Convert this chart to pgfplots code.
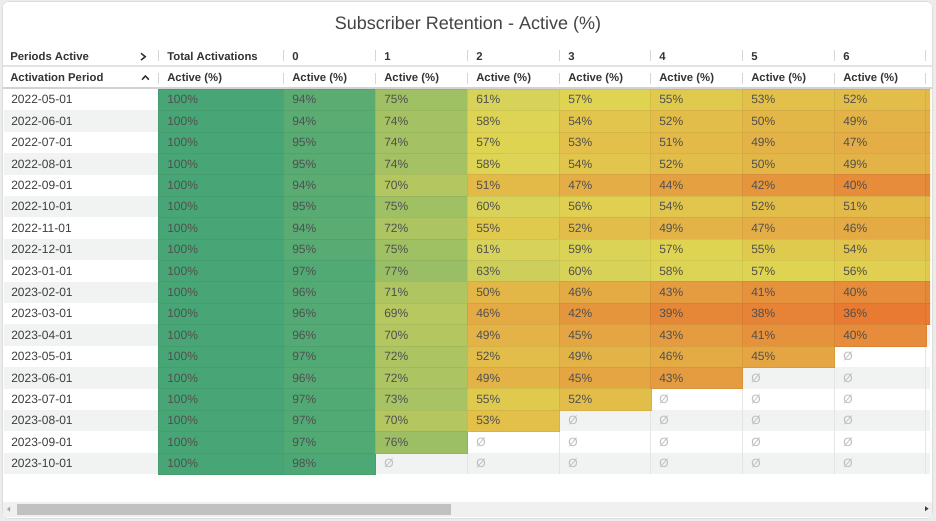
\documentclass[border=0pt]{standalone}
\usepackage{fontspec}
\setmainfont{Liberation Sans}
\usepackage{pgfplots}
\usepackage{pgfplotstable}
\pgfplotsset{compat=1.18}

\definecolor{outerbg}{HTML}{ECECEC}
\definecolor{cardline}{HTML}{DCDCDC}
\definecolor{stripe}{HTML}{F1F2F2}
\definecolor{gridline}{HTML}{E4E4E4}
\definecolor{sepline}{HTML}{D6D6D6}
\definecolor{hlineA}{HTML}{E3E3E3}
\definecolor{hlineB}{HTML}{D2D2D2}
\definecolor{titletext}{HTML}{444444}
\definecolor{headtext}{HTML}{333333}
\definecolor{labeltext}{HTML}{3E3E3E}
\definecolor{celltext}{HTML}{505050}
\definecolor{nulltext}{HTML}{BDBDBD}
\definecolor{scrolltrack}{HTML}{F0F0F0}
\definecolor{scrollthumb}{HTML}{C1C1C1}

\newcommand\titlefont{\fontsize{13.5}{16}\selectfont}
\newcommand\headfont{\fontsize{8.5}{10}\selectfont\bfseries}
\newcommand\cellfont{\fontsize{9}{10}\selectfont}
\newcommand\rowy{89+21.4*(\thisrow{r}-0.5)}

% one table cell: 92px x 21.4px (1px = 0.75pt), anchored at its left edge
\pgfdeclareplotmark{cellN}{%
  \pgfpathrectangle{\pgfpoint{0pt}{-8.03pt}}{\pgfpoint{69pt}{16.05pt}}%
  \pgfusepath{fill,stroke}}
% the wider "Total Activations" cell: 125px
\pgfdeclareplotmark{cellW}{%
  \pgfpathrectangle{\pgfpoint{0pt}{-8.03pt}}{\pgfpoint{93.75pt}{16.05pt}}%
  \pgfusepath{fill,stroke}}

\pgfplotstableread{
r  date       TA  c0 c1  c2  c3  c4  c5  c6  c7
1  2022-05-01 100 94 75  61  57  55  53  52  51
2  2022-06-01 100 94 74  58  54  52  50  49  48
3  2022-07-01 100 95 74  57  53  51  49  47  46
4  2022-08-01 100 95 74  58  54  52  50  49  48
5  2022-09-01 100 94 70  51  47  44  42  40  39
6  2022-10-01 100 95 75  60  56  54  52  51  50
7  2022-11-01 100 94 72  55  52  49  47  46  45
8  2022-12-01 100 95 75  61  59  57  55  54  53
9  2023-01-01 100 97 77  63  60  58  57  56  55
10 2023-02-01 100 96 71  50  46  43  41  40  39
11 2023-03-01 100 96 69  46  42  39  38  36  36
12 2023-04-01 100 96 70  49  45  43  41  40  nan
13 2023-05-01 100 97 72  52  49  46  45  nan nan
14 2023-06-01 100 96 72  49  45  43  nan nan nan
15 2023-07-01 100 97 73  55  52  nan nan nan nan
16 2023-08-01 100 97 70  53  nan nan nan nan nan
17 2023-09-01 100 97 76  nan nan nan nan nan nan
18 2023-10-01 100 98 nan nan nan nan nan nan nan
}\retention

\pgfplotsset{
  cellbase/.style={
    scatter, only marks, point meta=explicit,
    scatter/use mapped color={draw=mapped color!94!black, fill=mapped color},
    mark options={line width=0.45pt},
  },
  valtext/.style={
    only marks, mark=none, point meta=explicit,
    nodes near coords={\pgfmathprintnumber[fixed,precision=0,assume math mode=true]{\pgfplotspointmeta}\%},
    nodes near coords align={anchor=base west},
    every node near coord/.append style={anchor=base west, xshift=6.75pt, yshift=-3.2pt,
      inner sep=0pt, font=\cellfont, text=celltext},
  },
}

\begin{document}
\begin{tikzpicture}
\begin{scope}[x=0.75pt,y=-0.75pt]
  \fill[outerbg] (0,0) rectangle (936,521);
  \filldraw[fill=white, draw=cardline, rounded corners=4.5pt] (2.5,1.5) rectangle (932.5,518.5);
  \foreach \r in {2,4,...,18}
    \fill[stripe] (3.5,{89+21.4*(\r-1)}) rectangle (930,{89+21.4*\r});
  \foreach \xl in {283,375,467,559,650,742,834,925}
    \draw[gridline, line width=0.75pt] (\xl,89) -- (\xl,474);
\end{scope}

\begin{axis}[
  anchor=north west, at={(0,0)},
  x=0.75pt, y=0.75pt, y dir=reverse,
  xmin=0, xmax=930, ymin=0, ymax=521,
  hide axis, clip marker paths=true,
  colormap={ret}{rgb255(36pt)=(232,122,50) rgb255(40pt)=(230,140,58)
    rgb255(46pt)=(228,170,68) rgb255(53pt)=(226,192,74) rgb255(57pt)=(223,212,82)
    rgb255(61pt)=(214,210,90) rgb255(75pt)=(160,192,100) rgb255(94pt)=(90,172,115)
    rgb255(100pt)=(72,166,118)},
  point meta min=36, point meta max=100,
]
% coloured cells, one plot per period column
\addplot[cellbase, mark=cellW] table[x expr=158, y expr=\rowy, meta=TA] {\retention};
\addplot[cellbase, mark=cellN] table[x expr=283, y expr=\rowy, meta=c0] {\retention};
\addplot[cellbase, mark=cellN, skip coords between index={17}{18}] table[x expr=375, y expr=\rowy, meta=c1] {\retention};
\addplot[cellbase, mark=cellN, skip coords between index={16}{18}] table[x expr=467, y expr=\rowy, meta=c2] {\retention};
\addplot[cellbase, mark=cellN, skip coords between index={15}{18}] table[x expr=559, y expr=\rowy, meta=c3] {\retention};
\addplot[cellbase, mark=cellN, skip coords between index={14}{18}] table[x expr=650, y expr=\rowy, meta=c4] {\retention};
\addplot[cellbase, mark=cellN, skip coords between index={13}{18}] table[x expr=742, y expr=\rowy, meta=c5] {\retention};
\addplot[cellbase, mark=cellN, skip coords between index={12}{18}] table[x expr=834, y expr=\rowy, meta=c6] {\retention};
\addplot[cellbase, mark=cellN, skip coords between index={11}{18}] table[x expr=925, y expr=\rowy, meta=c7] {\retention};
% percentages in the cells
\addplot[valtext] table[x expr=158, y expr=\rowy, meta=TA] {\retention};
\addplot[valtext] table[x expr=283, y expr=\rowy, meta=c0] {\retention};
\addplot[valtext, skip coords between index={17}{18}] table[x expr=375, y expr=\rowy, meta=c1] {\retention};
\addplot[valtext, skip coords between index={16}{18}] table[x expr=467, y expr=\rowy, meta=c2] {\retention};
\addplot[valtext, skip coords between index={15}{18}] table[x expr=559, y expr=\rowy, meta=c3] {\retention};
\addplot[valtext, skip coords between index={14}{18}] table[x expr=650, y expr=\rowy, meta=c4] {\retention};
\addplot[valtext, skip coords between index={13}{18}] table[x expr=742, y expr=\rowy, meta=c5] {\retention};
\addplot[valtext, skip coords between index={12}{18}] table[x expr=834, y expr=\rowy, meta=c6] {\retention};
% row labels
\addplot[only marks, mark=none, point meta=explicit symbolic, nodes near coords,
  nodes near coords align={anchor=base west},
  every node near coord/.append style={anchor=base west, yshift=-3.2pt, inner sep=0pt,
    font=\cellfont, text=labeltext}]
  table[x expr=11, y expr=\rowy, meta=date] {\retention};
\end{axis}

\begin{scope}[x=0.75pt,y=-0.75pt, txt/.style={anchor=base west, inner sep=0pt}]
  \node[anchor=base, inner sep=0pt, font=\titlefont, text=titletext] at (468,30)
    {Subscriber Retention - Active (\%)};
  % header rows
  \node[txt, font=\headfont, text=headtext] at (10,60.5) {Periods Active};
  \node[txt, font=\headfont, text=headtext] at (10,81.5) {Activation Period};
  \draw[headtext, line width=1.1pt] (141,53.3) -- (145.3,56.7) -- (141,60.1);
  \draw[headtext, line width=1.1pt] (142,79.6) -- (145.4,76) -- (148.8,79.6);
  \node[txt, font=\headfont, text=headtext] at (167,60.5) {Total Activations};
  \foreach \xl/\n in {283/0,375/1,467/2,559/3,650/4,742/5,834/6}
    \node[txt, font=\headfont, text=headtext] at (\xl+9,60.5) {\n};
  \foreach \xl in {158,283,375,467,559,650,742,834}
    \node[txt, font=\headfont, text=headtext] at (\xl+9,81.5) {Active (\%)};
  \foreach \xl in {158,283,375,467,559,650,742,834,925} {
    \draw[sepline, line width=0.75pt] (\xl,50) -- (\xl,61);
    \draw[sepline, line width=0.75pt] (\xl,72.5) -- (\xl,83.5);
  }
  \draw[hlineA, line width=1.5pt] (3,66) -- (932,66);
  \draw[hlineB, line width=1.5pt] (3,88.2) -- (932,88.2);
  % empty cells
  \foreach \j/\xl in {1/375,2/467,3/559,4/650,5/742,6/834} {
    \pgfmathtruncatemacro\rs{19-\j}
    \foreach \r in {\rs,...,18}
      \node[txt, font=\cellfont, text=nulltext] at (\xl+9,{89+21.4*(\r-0.5)+4.27}) {Ø};
  }
  % scrollbar
  \fill[scrolltrack] (3,501.5) rectangle (932,517);
  \fill[scrollthumb] (17,503.5) rectangle (451,515);
  \fill[black!35] (7,509.2) -- (10,506.7) -- (10,511.7) -- cycle;
  \fill[black!75] (928.5,508.7) -- (925,506.2) -- (925,511.2) -- cycle;
\end{scope}
\end{tikzpicture}
\end{document}
